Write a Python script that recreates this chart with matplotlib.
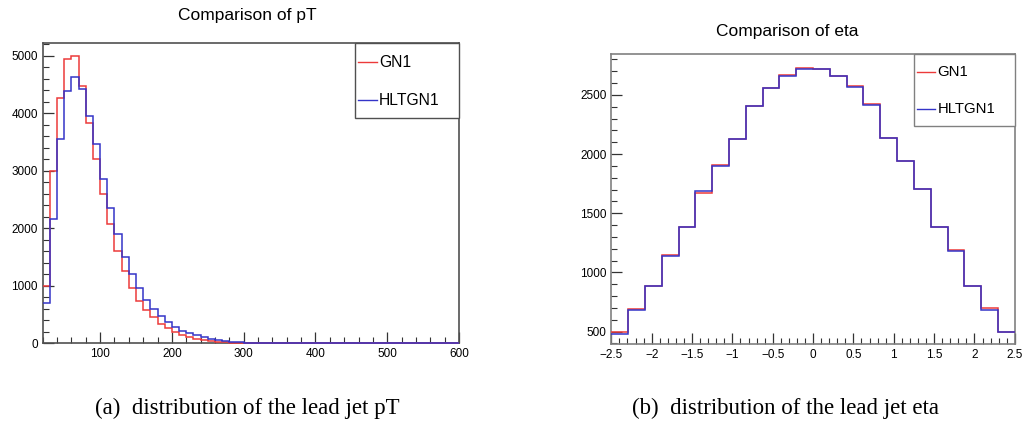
import numpy as np
import matplotlib.pyplot as plt
from matplotlib.ticker import MultipleLocator
from matplotlib.patches import Rectangle

plt.rcParams['font.family'] = ['Liberation Sans', 'DejaVu Sans']

#==================#
# Histogram values #
#==================#

# lead jet pT, 10 GeV bins from 20 to 600
pt_edges = np.arange(20, 601, 10)
pt_gn1 = [1000, 2990, 4270, 4940, 4990, 4480, 3840, 3210, 2590, 2070,
          1610, 1250, 970, 745, 580, 452, 338, 262, 203, 148,
          112, 82, 58, 40, 30, 22, 15, 10, 7, 5,
          3, 0, 0, 0, 0, 0, 0, 0, 0, 0,
          0, 0, 0, 0, 0, 0, 0, 0, 0, 0,
          0, 0, 0, 0, 0, 0, 0, 0]
pt_hltgn1 = [700, 2160, 3550, 4390, 4630, 4430, 3950, 3460, 2860, 2360,
             1910, 1495, 1205, 970, 760, 598, 470, 365, 290, 222,
             175, 140, 105, 78, 58, 42, 30, 20, 14, 10,
             8, 6, 4, 3, 2, 1, 0, 0, 0, 0,
             0, 0, 0, 0, 0, 0, 0, 0, 0, 0,
             0, 0, 0, 0, 0, 0, 0, 0]

# lead jet eta, 24 bins from -2.5 to 2.5
eta_edges = np.linspace(-2.5, 2.5, 25)
eta_gn1 = [500, 689, 886, 1148, 1382, 1669, 1906, 2128, 2407, 2559, 2665, 2725,
           2717, 2663, 2572, 2424, 2134, 1942, 1708, 1385, 1190, 886, 703, 494]
eta_hltgn1 = [480, 683, 883, 1139, 1382, 1686, 1900, 2128, 2407, 2559, 2663, 2717,
              2717, 2663, 2567, 2413, 2134, 1945, 1708, 1385, 1183, 886, 683, 494]

labels = ['GN1', 'HLTGN1']
red = '#ec3a3a'
blue = '#3434c8'

fig = plt.figure(figsize=(10.24, 4.25), dpi=100)
ax1 = fig.add_axes([0.0417, 0.192, 0.4066, 0.706])
ax2 = fig.add_axes([0.597, 0.19, 0.394, 0.683])


def style_axis(ax, frame_col):
    for s in ax.spines.values():
        s.set_color(frame_col)
        s.set_linewidth(1.2)
        s.set_zorder(2)
    ax.tick_params(which='both', direction='in', top=False, right=False,
                   labelsize=8.5, colors='#333333', labelcolor='black')
    ax.tick_params(which='major', length=8, width=0.9)
    ax.tick_params(which='minor', length=4, width=0.8)


def root_legend(ax, frame_col, fs):
    # ROOT style legend box in the top right corner
    ax.add_patch(Rectangle((0.749, 0.751), 0.251, 0.249, transform=ax.transAxes,
                           facecolor='white', edgecolor=frame_col, lw=1.0, zorder=5,
                           clip_on=False))
    for col, lab, yy in zip([red, blue], labels, [0.937, 0.811]):
        ax.plot([0.757, 0.802], [yy, yy], color=col, lw=1.0, transform=ax.transAxes, zorder=6)
        ax.text(0.808, yy, lab, transform=ax.transAxes, fontsize=fs, va='center', ha='left', zorder=6)


# pT panel
ax1.stairs(pt_gn1, pt_edges, color=red, lw=1.1, baseline=None, zorder=3, clip_on=False)
ax1.stairs(pt_hltgn1, pt_edges, color=blue, lw=1.1, baseline=None, zorder=4, clip_on=False)
ax1.set_xlim(20, 600)
ax1.set_ylim(0, 5216)
ax1.xaxis.set_major_locator(MultipleLocator(100))
ax1.xaxis.set_minor_locator(MultipleLocator(20))
ax1.yaxis.set_major_locator(MultipleLocator(1000))
ax1.yaxis.set_minor_locator(MultipleLocator(200))
style_axis(ax1, '#505050')
root_legend(ax1, '#505050', 11.3)

# eta panel
ax2.stairs(eta_gn1, eta_edges, color=red, lw=1.1, baseline=None, zorder=3)
ax2.stairs(eta_hltgn1, eta_edges, color=blue, lw=1.1, baseline=None, zorder=4)
ax2.set_xlim(-2.5, 2.5)
ax2.set_ylim(393, 2846)
ax2.xaxis.set_major_locator(MultipleLocator(0.5))
ax2.xaxis.set_minor_locator(MultipleLocator(0.1))
ax2.yaxis.set_major_locator(MultipleLocator(500))
ax2.yaxis.set_minor_locator(MultipleLocator(100))
ax2.xaxis.set_major_formatter(lambda v, p: f'{v:g}'.replace('-', '\u2212'))
style_axis(ax2, '#808080')
root_legend(ax2, '#808080', 10.7)

# titles and captions
fig.text(0.242, 0.963, 'Comparison of pT', ha='center', va='center', fontsize=12.5)
fig.text(0.769, 0.925, 'Comparison of eta', ha='center', va='center', fontsize=12.5)
fig.text(0.242, 0.04, '(a)  distribution of the lead jet pT', ha='center', va='center',
         fontsize=16.5, family=['Liberation Serif', 'DejaVu Serif'])
fig.text(0.767, 0.04, '(b)  distribution of the lead jet eta', ha='center', va='center',
         fontsize=16.5, family=['Liberation Serif', 'DejaVu Serif'])

plt.savefig('out.png', dpi=100)
